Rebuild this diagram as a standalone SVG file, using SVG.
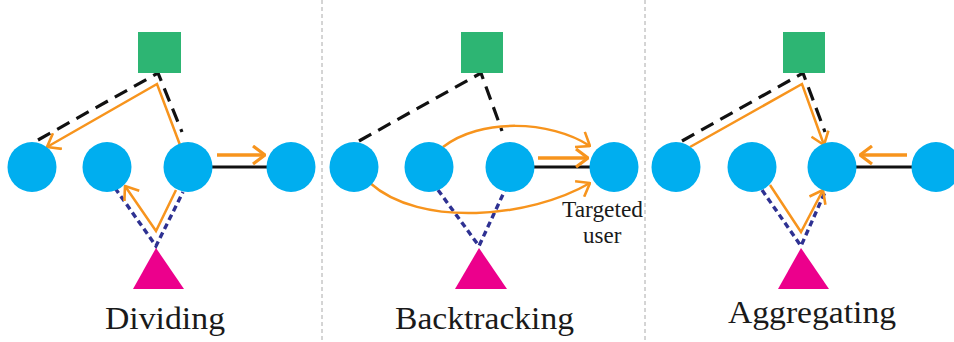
<svg xmlns="http://www.w3.org/2000/svg" width="954" height="342" viewBox="0 0 954 342">
<style>
.user{fill:#00AEEF}
.item{fill:#2DB573}
.attr{fill:#EC008C}
.dash{fill:none;stroke:#111;stroke-width:3.2;stroke-dasharray:14 8}
.dot{fill:none;stroke:#2E3192;stroke-width:3.4;stroke-dasharray:6 4}
.solid{fill:none;stroke:#111;stroke-width:3}
.flow{fill:none;stroke:#F7941D;stroke-width:2.5;stroke-linejoin:miter}
.flowThick{fill:none;stroke:#F7941D;stroke-width:3.4}
.sep{stroke:#AAAAAA;stroke-width:1;stroke-dasharray:4 3}
.label{font-family:"Liberation Serif","Times New Roman",serif;font-size:32px;fill:#1a1a1a}
.small{font-family:"Liberation Serif","Times New Roman",serif;font-size:23px;fill:#1a1a1a}
</style>
<defs>
<marker id="arr" viewBox="0 0 14 20" refX="13" refY="10" markerWidth="14" markerHeight="20" markerUnits="userSpaceOnUse" orient="auto">
<path d="M1,1 L13,10 L1,19" fill="none" stroke="#F7941D" stroke-width="2.6"/>
</marker>
<marker id="arrT" viewBox="0 0 14 20" refX="13" refY="10" markerWidth="14" markerHeight="20" markerUnits="userSpaceOnUse" orient="auto">
<path d="M1,1 L13,10 L1,19" fill="none" stroke="#F7941D" stroke-width="3.2"/>
</marker>
</defs>
<rect width="954" height="342" fill="#fff"/>
<g id="separators">
<line class="sep" x1="322" y1="0" x2="322" y2="342"/>
<line class="sep" x1="645" y1="0" x2="645" y2="342"/>
</g>
<g id="connectors">
<path class="dash" d="M38,140 L158,73 L182,132"/>
<line class="solid" x1="210" y1="167" x2="268" y2="167"/>
<path class="dot" d="M115,188 L156,246 L183,192"/>
<path class="flow" d="M180,145 L157,84 L47,147" marker-end="url(#arr)"/>
<line class="flowThick" x1="217" y1="155" x2="265" y2="155" marker-end="url(#arrT)"/>
<path class="flow" d="M176,190 L156,231 L125,186" marker-end="url(#arr)"/>
<path class="dash" d="M359,141 L481,73 L502,131"/>
<line class="solid" x1="533" y1="167" x2="590" y2="167"/>
<path class="dot" d="M438,190 L479,246 L505,190"/>
<path class="flow" d="M443,147 C480,118 550,120 590,146" marker-end="url(#arr)"/>
<line class="flowThick" x1="538" y1="158" x2="588" y2="158" marker-end="url(#arrT)"/>
<path class="flow" d="M370,183 C420,228 530,218 590,183" marker-end="url(#arr)"/>
<path class="dash" d="M682,141 L803,73 L825,132"/>
<line class="solid" x1="855" y1="167" x2="912" y2="167"/>
<path class="dot" d="M762,190 L801,246 L825,192"/>
<path class="flow" d="M690,147 L802,84 L824,145" marker-end="url(#arr)"/>
<line class="flowThick" x1="907" y1="155" x2="860" y2="155" marker-end="url(#arrT)"/>
<path class="flow" d="M770,185 L801,232 L823,190" marker-end="url(#arr)"/>
</g>
<g id="p1-item"><rect class="item" x="138" y="32" width="43" height="41"/></g>
<g id="p1-u1"><ellipse class="user" cx="32" cy="167" rx="24.5" ry="25"/></g>
<g id="p1-u2"><ellipse class="user" cx="107" cy="167" rx="24.5" ry="25"/></g>
<g id="p1-u3"><ellipse class="user" cx="188" cy="167" rx="24.5" ry="25"/></g>
<g id="p1-u4"><ellipse class="user" cx="291" cy="167" rx="24.5" ry="25"/></g>
<g id="p1-attr"><polygon class="attr" points="156,248 133,289 184,289"/></g>
<g id="p1-label"><text class="label" x="105" y="329" textLength="120" lengthAdjust="spacingAndGlyphs">Dividing</text></g>
<g id="p2-item"><rect class="item" x="461" y="32" width="42" height="41"/></g>
<g id="p2-u1"><ellipse class="user" cx="354" cy="167" rx="24.5" ry="25"/></g>
<g id="p2-u2"><ellipse class="user" cx="429" cy="167" rx="24.5" ry="25"/></g>
<g id="p2-u3"><ellipse class="user" cx="510" cy="167" rx="24.5" ry="25"/></g>
<g id="p2-u4"><ellipse class="user" cx="614" cy="167" rx="24.5" ry="25"/></g>
<g id="p2-attr"><polygon class="attr" points="479,248 455,289 507,289"/></g>
<g id="p2-target"><text class="small" x="562" y="217" textLength="81" lengthAdjust="spacingAndGlyphs">Targeted</text><text class="small" x="583" y="243">user</text></g>
<g id="p2-label"><text class="label" x="395" y="329" textLength="179" lengthAdjust="spacingAndGlyphs">Backtracking</text></g>
<g id="p3-item"><rect class="item" x="783" y="32" width="42" height="41"/></g>
<g id="p3-u1"><ellipse class="user" cx="676" cy="167" rx="24.5" ry="25"/></g>
<g id="p3-u2"><ellipse class="user" cx="752" cy="167" rx="24.5" ry="25"/></g>
<g id="p3-u3"><ellipse class="user" cx="832" cy="167" rx="24.5" ry="25"/></g>
<g id="p3-u4"><ellipse class="user" cx="936" cy="167" rx="24.5" ry="25"/></g>
<g id="p3-attr"><polygon class="attr" points="801,248 778,289 829,289"/></g>
<g id="p3-label"><text class="label" x="728" y="323" textLength="168" lengthAdjust="spacingAndGlyphs">Aggregating</text></g>
</svg>
